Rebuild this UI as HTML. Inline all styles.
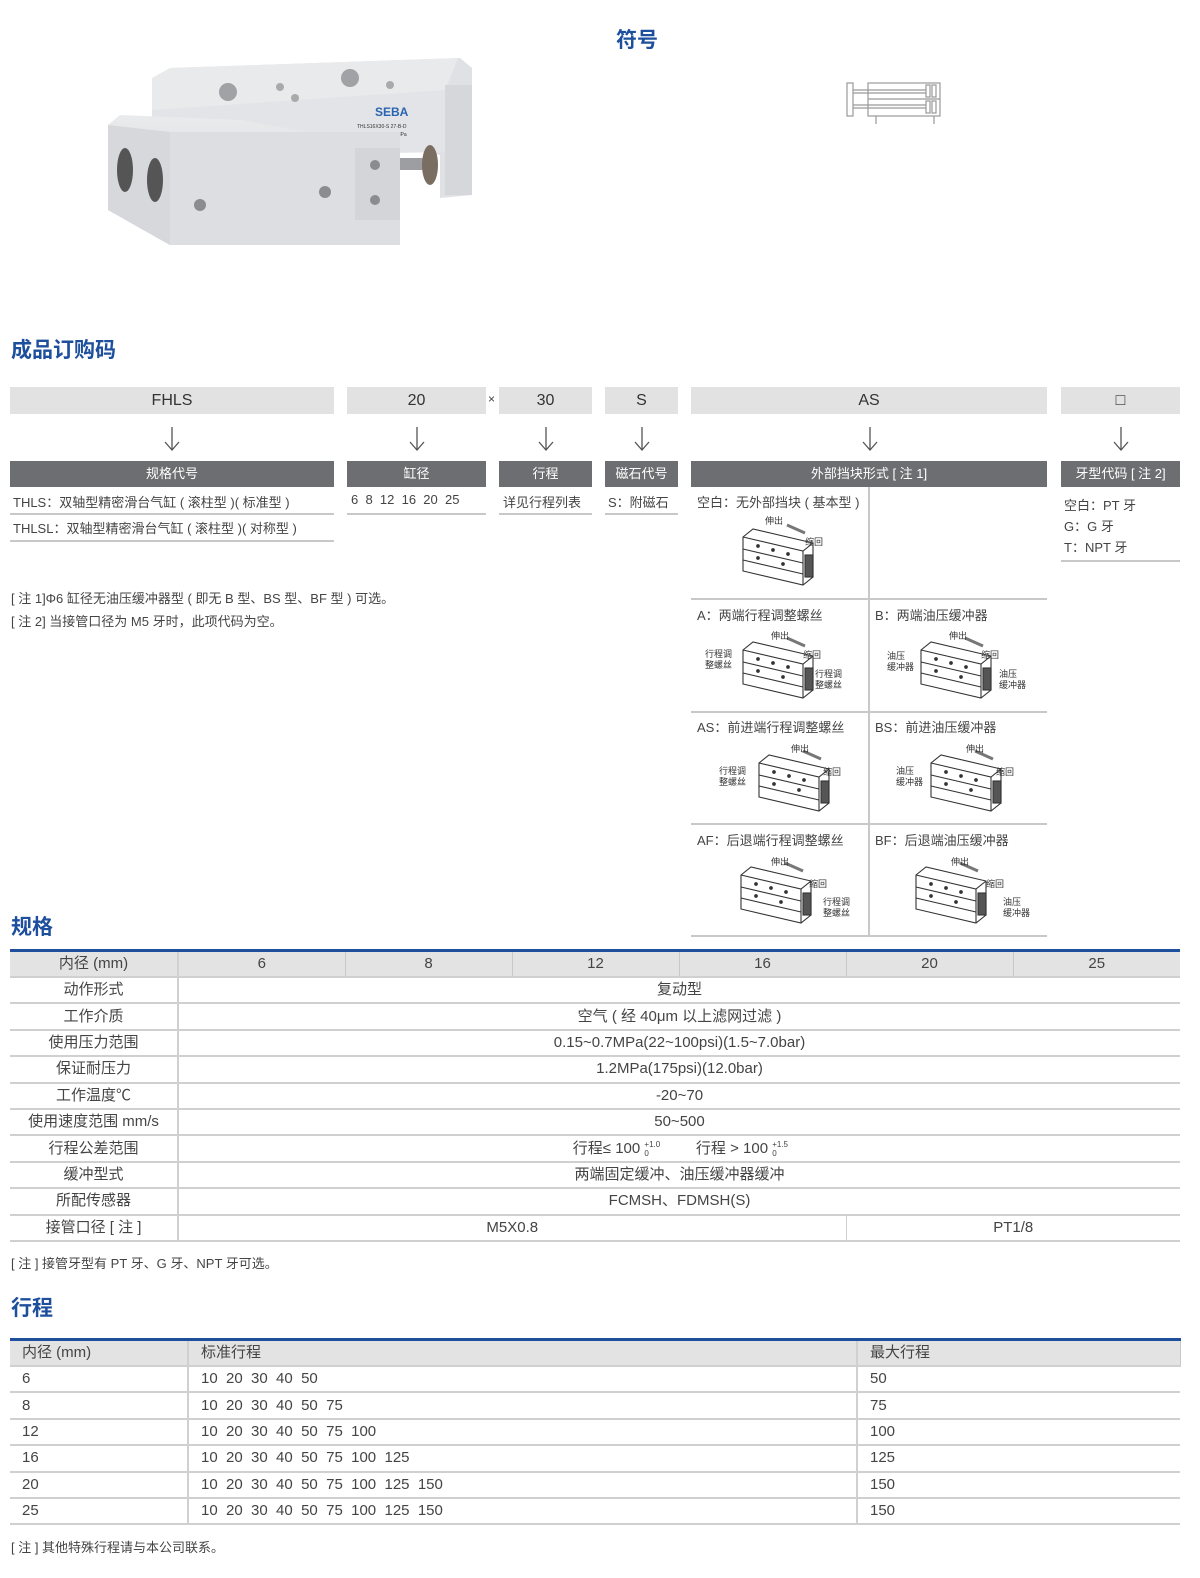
<!DOCTYPE html>
<html><head><meta charset="utf-8">
<style>
*{margin:0;padding:0;box-sizing:border-box}
body{width:1200px;height:1578px;background:#fff;position:relative;font-family:"Liberation Sans","Noto Sans CJK SC",sans-serif;color:#444;overflow:hidden}
.a{position:absolute}
.t{color:#1e4f9c;font-weight:bold;font-size:21px}
.gb{position:absolute;background:#e2e2e2;height:27px;text-align:center;line-height:27px;font-size:16px;color:#333}
.db{position:absolute;background:#6d6e71;height:26px;text-align:center;line-height:26px;font-size:13px;color:#fff}
.ar{position:absolute;top:426px}
.tx{position:absolute;font-size:13px;color:#444;white-space:nowrap}
.ln{position:absolute;height:2px;background:#c8c8c8}
table{border-collapse:collapse;position:absolute;table-layout:fixed}
td{height:26.4px;font-size:15px;color:#444;border-bottom:2px solid #d0d0d0;padding:0;white-space:nowrap;line-height:24px;overflow:hidden}
.spec td{text-align:center}
.spec td:first-child{border-right:2px solid #d0d0d0}
.hd td{background:#e3e3e3;border-right:1px solid #c8c8c8}
.st td{padding-left:12px}
.st td+td{border-left:2px solid #d0d0d0}
.tol{display:inline-block;position:relative;width:14px;height:10px;vertical-align:middle}
.tol i{position:absolute;left:0;font-style:normal;font-size:8px;line-height:8px}
</style></head><body>

<!-- product image -->
<svg class="a" style="left:100px;top:40px" width="380" height="210" viewBox="0 0 380 210">
<defs><linearGradient id="g1" x1="0" y1="0" x2="0" y2="1"><stop offset="0" stop-color="#eaebed"/><stop offset="1" stop-color="#c9cbcf"/></linearGradient></defs>
<polygon points="52,40 70,28 360,18 372,28 372,155 340,158 340,115 310,110 52,118" fill="#dfe1e4"/>
<polygon points="52,38 70,28 358,18 345,50 52,72" fill="#e9eaec"/>
<rect x="345" y="45" width="27" height="110" fill="#d5d7da"/>
<polygon points="52,70 345,50 345,112 52,118" fill="#e3e4e7"/>
<text x="275" y="76" font-family="Liberation Sans" font-weight="bold" font-size="12" fill="#2a64b0">SEBA</text>
<text x="257" y="88" font-family="Liberation Sans" font-size="5" fill="#333">THLS16X30-S      27-B-D</text>
<text x="257" y="96" font-family="Liberation Sans" font-size="5" fill="#333">PRESS: 0.15~0.7MPa</text>
<circle cx="153" cy="96" r="5" fill="#888"/><circle cx="180" cy="94" r="5" fill="#888"/>
<circle cx="128" cy="52" r="9" fill="#a0a2a6"/><circle cx="250" cy="38" r="9" fill="#a0a2a6"/>
<circle cx="180" cy="47" r="4" fill="#aaa"/><circle cx="195" cy="58" r="4" fill="#aaa"/><circle cx="290" cy="45" r="4" fill="#aaa"/>
<polygon points="8,85 20,75 140,80 300,108 300,178 70,205 8,170" fill="url(#g1)"/>
<polygon points="8,85 70,92 70,205 8,170" fill="#d6d8db"/>
<rect x="70" y="92" width="230" height="113" fill="#dcdee1"/>
<rect x="255" y="108" width="45" height="72" fill="#d3d5d8"/>
<ellipse cx="25" cy="130" rx="8" ry="22" fill="#555"/><ellipse cx="55" cy="140" rx="8" ry="22" fill="#555"/>
<circle cx="225" cy="152" r="6" fill="#8a8c90"/><circle cx="100" cy="165" r="6" fill="#8a8c90"/>
<circle cx="275" cy="125" r="5" fill="#8a8c90"/><circle cx="275" cy="160" r="5" fill="#8a8c90"/>
<rect x="300" y="118" width="30" height="12" fill="#9c9ea2"/>
<ellipse cx="330" cy="125" rx="8" ry="20" fill="#7a6e62"/>
</svg>

<div class="a t" style="left:616px;top:24px">符号</div>
<svg class="a" style="left:846px;top:80px" width="100" height="46" viewBox="0 0 100 46">
<g fill="none" stroke="#999" stroke-width="1.2">
<rect x="1" y="3" width="6" height="33"/>
<rect x="22" y="3" width="72" height="33"/>
<line x1="22" y1="19" x2="94" y2="19"/>
<line x1="7" y1="10" x2="80" y2="10"/><line x1="7" y1="13" x2="80" y2="13"/>
<line x1="7" y1="25" x2="80" y2="25"/><line x1="7" y1="28" x2="80" y2="28"/>
<rect x="80" y="5" width="4" height="12"/><rect x="86" y="5" width="4" height="12"/>
<rect x="80" y="21" width="4" height="12"/><rect x="86" y="21" width="4" height="12"/>
<line x1="30" y1="36" x2="30" y2="44"/><line x1="88" y1="36" x2="88" y2="44"/>
</g></svg>

<div class="a t" style="left:11px;top:334px">成品订购码</div>

<div class="gb" style="left:10px;top:387px;width:324px">FHLS</div>
<div class="gb" style="left:347px;top:387px;width:139px">20</div>
<div class="tx" style="left:488px;top:392px;font-size:12px">×</div>
<div class="gb" style="left:499px;top:387px;width:93px">30</div>
<div class="gb" style="left:605px;top:387px;width:73px">S</div>
<div class="gb" style="left:691px;top:387px;width:356px">AS</div>
<div class="gb" style="left:1061px;top:387px;width:119px">□</div>

<svg class="a" style="left:0;top:0" width="1200" height="460">
<defs><g id="arw" fill="none" stroke="#555" stroke-width="1.3"><line x1="0" y1="427" x2="0" y2="450"/><polyline points="-7,442 0,450 7,442"/></g></defs>
<use href="#arw" x="172"/><use href="#arw" x="417"/><use href="#arw" x="546"/><use href="#arw" x="642"/><use href="#arw" x="870"/><use href="#arw" x="1121"/>
</svg>

<div class="db" style="left:10px;top:461px;width:324px">规格代号</div>
<div class="db" style="left:347px;top:461px;width:139px">缸径</div>
<div class="db" style="left:499px;top:461px;width:93px">行程</div>
<div class="db" style="left:605px;top:461px;width:73px">磁石代号</div>
<div class="db" style="left:691px;top:461px;width:356px">外部挡块形式 [ 注 1]</div>
<div class="db" style="left:1061px;top:461px;width:119px">牙型代码 [ 注 2]</div>

<div class="tx" style="left:13px;top:492px">THLS：双轴型精密滑台气缸 ( 滚柱型 )( 标准型 )</div>
<div class="ln" style="left:10px;top:513px;width:324px"></div>
<div class="tx" style="left:13px;top:518px">THLSL：双轴型精密滑台气缸 ( 滚柱型 )( 对称型 )</div>
<div class="ln" style="left:10px;top:540px;width:324px"></div>
<div class="tx" style="left:351px;top:492px">6&nbsp; 8&nbsp; 12&nbsp; 16&nbsp; 20&nbsp; 25</div>
<div class="ln" style="left:347px;top:513px;width:139px"></div>
<div class="tx" style="left:503px;top:492px">详见行程列表</div>
<div class="ln" style="left:499px;top:513px;width:93px"></div>
<div class="tx" style="left:608px;top:492px">S：附磁石</div>
<div class="ln" style="left:605px;top:513px;width:73px"></div>
<div class="tx" style="left:1064px;top:495px">空白：PT 牙</div>
<div class="tx" style="left:1064px;top:516px">G：G 牙</div>
<div class="tx" style="left:1064px;top:537px">T：NPT 牙</div>
<div class="ln" style="left:1061px;top:560px;width:119px"></div>

<div class="tx" style="left:11px;top:588px">[ 注 1]Φ6 缸径无油压缓冲器型 ( 即无 B 型、BS 型、BF 型 ) 可选。</div>
<div class="tx" style="left:11px;top:611px">[ 注 2] 当接管口径为 M5 牙时，此项代码为空。</div>

<!-- AS grid -->
<div class="a" style="left:868px;top:487px;width:2px;height:449px;background:#c8c8c8"></div>
<div class="ln" style="left:691px;top:598px;width:356px"></div>
<div class="ln" style="left:691px;top:711px;width:356px"></div>
<div class="ln" style="left:691px;top:823px;width:356px"></div>
<div class="ln" style="left:691px;top:935px;width:356px"></div>

<div class="tx" style="left:697px;top:492px">空白：无外部挡块 ( 基本型 )</div>
<div class="tx" style="left:697px;top:605px">A：两端行程调整螺丝</div>
<div class="tx" style="left:875px;top:605px">B：两端油压缓冲器</div>
<div class="tx" style="left:697px;top:717px">AS：前进端行程调整螺丝</div>
<div class="tx" style="left:875px;top:717px">BS：前进油压缓冲器</div>
<div class="tx" style="left:697px;top:830px">AF：后退端行程调整螺丝</div>
<div class="tx" style="left:875px;top:830px">BF：后退端油压缓冲器</div>

<svg class="a" style="left:691px;top:487px" width="356" height="449" viewBox="0 0 356 449" font-family="Liberation Sans,Noto Sans CJK SC" font-size="9" fill="#333">
<defs>
<g id="cy" fill="none" stroke="#333" stroke-width="1.1">
<polygon points="0,8 10,0 70,14 70,48 60,56 0,42" fill="#fff"/>
<polyline points="0,8 60,22 70,14"/><line x1="60" y1="22" x2="60" y2="56"/>
<line x1="0" y1="20" x2="60" y2="34"/><line x1="0" y1="31" x2="60" y2="45"/>
<rect x="62" y="26" width="8" height="22" fill="#555"/>
<circle cx="15" cy="17" r="1.3" fill="#333"/><circle cx="30" cy="21" r="1.3" fill="#333"/><circle cx="45" cy="25" r="1.3" fill="#333"/>
<circle cx="15" cy="29" r="1.3" fill="#333"/><circle cx="40" cy="35" r="1.3" fill="#333"/>
<line x1="44" y1="-4" x2="62" y2="4" stroke="#777" stroke-width="3"/>
</g>
</defs>
<use href="#cy" x="52" y="42"/><text x="74" y="37">伸出</text><text x="114" y="58">缩回</text>
<use href="#cy" x="52" y="155"/><text x="80" y="152">伸出</text><text x="112" y="171">缩回</text><text x="14" y="170">行程调</text><text x="14" y="181">整螺丝</text><text x="124" y="190">行程调</text><text x="124" y="201">整螺丝</text>
<use href="#cy" x="230" y="155"/><text x="258" y="152">伸出</text><text x="290" y="171">缩回</text><text x="196" y="172">油压</text><text x="196" y="183">缓冲器</text><text x="308" y="190">油压</text><text x="308" y="201">缓冲器</text>
<use href="#cy" x="68" y="268"/><text x="100" y="265">伸出</text><text x="132" y="288">缩回</text><text x="28" y="287">行程调</text><text x="28" y="298">整螺丝</text>
<use href="#cy" x="240" y="268"/><text x="275" y="265">伸出</text><text x="305" y="288">缩回</text><text x="205" y="287">油压</text><text x="205" y="298">缓冲器</text>
<use href="#cy" x="50" y="380"/><text x="80" y="378">伸出</text><text x="118" y="400">缩回</text><text x="132" y="418">行程调</text><text x="132" y="429">整螺丝</text>
<use href="#cy" x="225" y="380"/><text x="260" y="378">伸出</text><text x="295" y="400">缩回</text><text x="312" y="418">油压</text><text x="312" y="429">缓冲器</text>
</svg>

<div class="a t" style="left:11px;top:911px">规格</div>
<table class="spec" style="left:10px;top:949px;width:1170px;border-top:3px solid #1e4f9c">
<colgroup><col style="width:168px"><col style="width:167px"><col style="width:167px"><col style="width:167px"><col style="width:167px"><col style="width:167px"><col style="width:167px"></colgroup>
<tr class="hd"><td>内径 (mm)</td><td>6</td><td>8</td><td>12</td><td>16</td><td>20</td><td style="border-right:0">25</td></tr>
<tr><td>动作形式</td><td colspan="6">复动型</td></tr>
<tr><td>工作介质</td><td colspan="6">空气 ( 经 40μm 以上滤网过滤 )</td></tr>
<tr><td>使用压力范围</td><td colspan="6">0.15~0.7MPa(22~100psi)(1.5~7.0bar)</td></tr>
<tr><td>保证耐压力</td><td colspan="6">1.2MPa(175psi)(12.0bar)</td></tr>
<tr><td>工作温度℃</td><td colspan="6">-20~70</td></tr>
<tr><td>使用速度范围 mm/s</td><td colspan="6">50~500</td></tr>
<tr><td>行程公差范围</td><td colspan="6">行程≤ 100 <span class="tol"><i style="top:-3px">+1.0</i><i style="top:6px">0</i></span>&nbsp;&nbsp;&nbsp;&nbsp;&nbsp;&nbsp;&nbsp;&nbsp; 行程 &gt; 100 <span class="tol"><i style="top:-3px">+1.5</i><i style="top:6px">0</i></span></td></tr>
<tr><td>缓冲型式</td><td colspan="6">两端固定缓冲、油压缓冲器缓冲</td></tr>
<tr><td>所配传感器</td><td colspan="6">FCMSH、FDMSH(S)</td></tr>
<tr><td>接管口径 [ 注 ]</td><td colspan="4" style="border-right:1px solid #d0d0d0">M5X0.8</td><td colspan="2">PT1/8</td></tr>
</table>
<div class="tx" style="left:11px;top:1253px">[ 注 ] 接管牙型有 PT 牙、G 牙、NPT 牙可选。</div>

<div class="a t" style="left:11px;top:1292px">行程</div>
<table class="st" style="left:10px;top:1338px;width:1170px;border-top:3px solid #1e4f9c">
<colgroup><col style="width:178px"><col style="width:669px"><col style="width:323px"></colgroup>
<tr class="hd"><td>内径 (mm)</td><td>标准行程</td><td>最大行程</td></tr>
<tr><td>6</td><td>10&nbsp; 20&nbsp; 30&nbsp; 40&nbsp; 50</td><td>50</td></tr>
<tr><td>8</td><td>10&nbsp; 20&nbsp; 30&nbsp; 40&nbsp; 50&nbsp; 75</td><td>75</td></tr>
<tr><td>12</td><td>10&nbsp; 20&nbsp; 30&nbsp; 40&nbsp; 50&nbsp; 75&nbsp; 100</td><td>100</td></tr>
<tr><td>16</td><td>10&nbsp; 20&nbsp; 30&nbsp; 40&nbsp; 50&nbsp; 75&nbsp; 100&nbsp; 125</td><td>125</td></tr>
<tr><td>20</td><td>10&nbsp; 20&nbsp; 30&nbsp; 40&nbsp; 50&nbsp; 75&nbsp; 100&nbsp; 125&nbsp; 150</td><td>150</td></tr>
<tr><td>25</td><td>10&nbsp; 20&nbsp; 30&nbsp; 40&nbsp; 50&nbsp; 75&nbsp; 100&nbsp; 125&nbsp; 150</td><td>150</td></tr>
</table>
<div class="tx" style="left:11px;top:1537px">[ 注 ] 其他特殊行程请与本公司联系。</div>
</body></html>
